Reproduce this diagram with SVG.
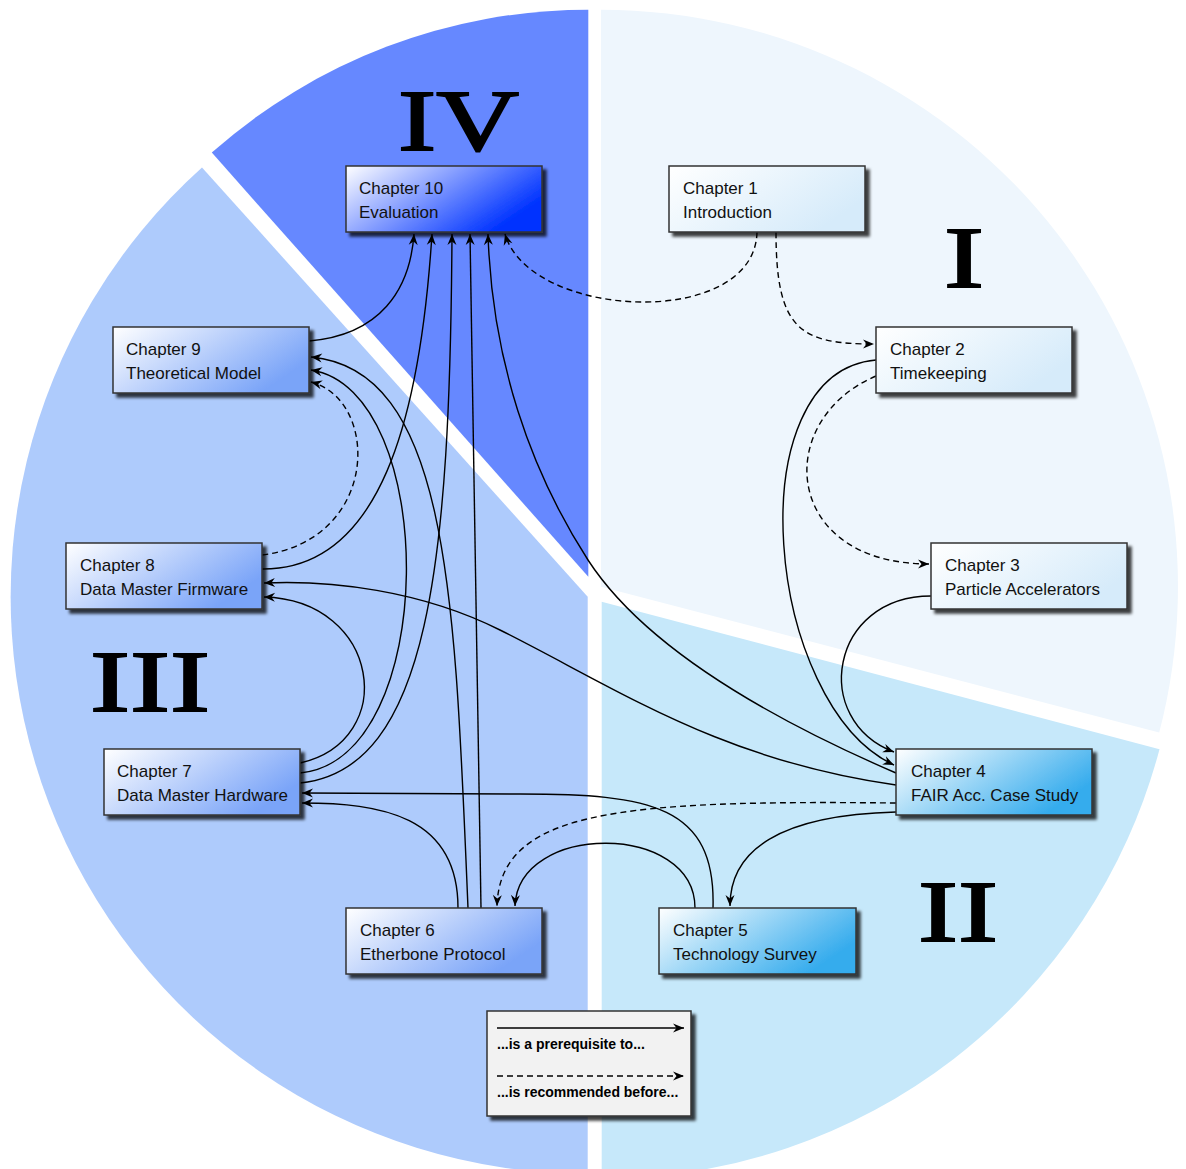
<svg xmlns="http://www.w3.org/2000/svg" width="1186" height="1169" viewBox="0 0 1186 1169">
  <style>
    .label { font-family: "Liberation Sans", Arial, sans-serif; font-size: 17px; fill: #111; }
    .roman { font-family: "Liberation Serif", "Times New Roman", serif; font-size: 86px; fill: #000; stroke: #000; stroke-width: 1.8; }
    .legend { font-family: "Liberation Sans", Arial, sans-serif; font-size: 14px; font-weight: bold; fill: #000; }
    .box { stroke: #333; stroke-width: 1.5; filter: url(#shadow); }
    .edge { fill: none; stroke: #000; stroke-width: 1.4; marker-end: url(#arrow); }
    .dash { stroke-dasharray: 6 4; }
  </style>
  <defs>
    <filter id="shadow" x="-10%" y="-20%" width="130%" height="160%">
      <feDropShadow dx="4" dy="4" stdDeviation="1.8" flood-color="#000" flood-opacity="0.75"/>
    </filter>
    <linearGradient id="gPale" x1="0" y1="0" x2="1" y2="0.5">
      <stop offset="0" stop-color="#ffffff"/>
      <stop offset="1" stop-color="#d6ebfa"/>
    </linearGradient>
    <linearGradient id="gCyan" x1="0" y1="0" x2="1" y2="0.5">
      <stop offset="0" stop-color="#ffffff"/>
      <stop offset="1" stop-color="#36aced"/>
    </linearGradient>
    <linearGradient id="gBlue" x1="0" y1="0" x2="1" y2="0.5">
      <stop offset="0" stop-color="#ffffff"/>
      <stop offset="1" stop-color="#7aa4f8"/>
    </linearGradient>
    <linearGradient id="gDeep" x1="0" y1="0" x2="1" y2="0.5">
      <stop offset="0" stop-color="#ffffff"/>
      <stop offset="1" stop-color="#0033ff"/>
    </linearGradient>
    <marker id="arrow" viewBox="-12 -6 13 12" markerWidth="13" markerHeight="12" refX="0" refY="0" orient="auto" markerUnits="userSpaceOnUse">
      <path d="M0,0 L-11,-4.5 L-7.5,0 L-11,4.5 Z" fill="#000"/>
    </marker>
  </defs>

  <!-- exploded pie: four parts -->
  <g id="parts">
    <path d="M601,586.7 L601,9.7 A577,577 0 0 1 1159.2,732.6 Z" fill="#eef6fd"/>
    <path d="M601.7,601.7 L1159.5,749.2 A577,577 0 0 1 601.7,1178.7 Z" fill="#c6e8fa"/>
    <path d="M587.7,596.7 L202,167.5 A577,577 0 0 0 587.7,1173.7 Z" fill="#aecbfc"/>
    <path d="M588.3,576.7 L588.3,9.7 A567,567 0 0 0 211.8,152.6 Z" fill="#6688ff"/>
  </g>

  <g id="part-labels">
    <text class="roman" x="398" y="150" textLength="121" lengthAdjust="spacingAndGlyphs">IV</text>
    <text class="roman" x="944" y="287" textLength="40" lengthAdjust="spacingAndGlyphs">I</text>
    <text class="roman" x="90" y="711" textLength="120" lengthAdjust="spacingAndGlyphs">III</text>
    <text class="roman" x="918" y="941" textLength="80" lengthAdjust="spacingAndGlyphs">II</text>
  </g>

  <!-- connectors -->
  <g id="connectors">
    <path class="edge dash" d="M757,232 C755,330 530,320 505,234"/>
    <path class="edge dash" d="M776,232 C776,330 800,344 874,344"/>
    <path class="edge dash" d="M876,376 C772,420 782,564 929,564"/>
    <path class="edge" d="M876,360 C735,372 765,705 894,765"/>
    <path class="edge" d="M931,596 C830,596 810,720 894,752"/>
    <path class="edge" d="M896,773 C750,710 640,640 588,560 C530,470 492,360 488,234"/>
    <path class="edge" d="M896,785 C720,760 620,690 500,630 C420,590 330,580 264,583"/>
    <path class="edge dash" d="M896,803 C620,800 500,810 497,906"/>
    <path class="edge" d="M896,812 C780,815 730,850 730,906"/>
    <path class="edge" d="M713,908 C716,805 650,794 520,794 L302,793"/>
    <path class="edge" d="M695,908 C695,822 518,822 515,906"/>
    <path class="edge" d="M458,908 C458,815 380,803 302,803"/>
    <path class="edge" d="M481,908 L470,234"/>
    <path class="edge" d="M468,908 C455,600 450,370 311,357"/>
    <path class="edge" d="M300,773 C440,760 440,390 311,370"/>
    <path class="edge" d="M300,783 C430,770 450,560 452,234"/>
    <path class="edge" d="M300,763 C400,740 380,600 264,597"/>
    <path class="edge" d="M262,569 C380,570 420,420 432,234"/>
    <path class="edge dash" d="M262,555 C380,540 380,400 311,382"/>
    <path class="edge" d="M309,341 C380,335 410,290 414,234"/>
  </g>

  <!-- chapter nodes -->
  <g id="ch1">
    <rect class="box" x="669" y="166" width="196" height="66" fill="url(#gPale)"/>
    <text class="label" x="683" y="193.5">Chapter 1</text>
    <text class="label" x="683" y="217.5">Introduction</text>
  </g>
  <g id="ch2">
    <rect class="box" x="876" y="327" width="196" height="66" fill="url(#gPale)"/>
    <text class="label" x="890" y="354.5">Chapter 2</text>
    <text class="label" x="890" y="378.5">Timekeeping</text>
  </g>
  <g id="ch3">
    <rect class="box" x="931" y="543" width="196" height="66" fill="url(#gPale)"/>
    <text class="label" x="945" y="570.5">Chapter 3</text>
    <text class="label" x="945" y="594.5">Particle Accelerators</text>
  </g>
  <g id="ch4">
    <rect class="box" x="896" y="749" width="196" height="66" fill="url(#gCyan)"/>
    <text class="label" x="911" y="776.5">Chapter 4</text>
    <text class="label" x="911" y="800.5">FAIR Acc. Case Study</text>
  </g>
  <g id="ch5">
    <rect class="box" x="659" y="908" width="197" height="66" fill="url(#gCyan)"/>
    <text class="label" x="673" y="935.5">Chapter 5</text>
    <text class="label" x="673" y="959.5">Technology Survey</text>
  </g>
  <g id="ch6">
    <rect class="box" x="346" y="908" width="196" height="66" fill="url(#gBlue)"/>
    <text class="label" x="360" y="935.5">Chapter 6</text>
    <text class="label" x="360" y="959.5">Etherbone Protocol</text>
  </g>
  <g id="ch7">
    <rect class="box" x="104" y="749" width="196" height="66" fill="url(#gBlue)"/>
    <text class="label" x="117" y="776.5">Chapter 7</text>
    <text class="label" x="117" y="800.5">Data Master Hardware</text>
  </g>
  <g id="ch8">
    <rect class="box" x="66" y="543" width="196" height="66" fill="url(#gBlue)"/>
    <text class="label" x="80" y="570.5">Chapter 8</text>
    <text class="label" x="80" y="594.5">Data Master Firmware</text>
  </g>
  <g id="ch9">
    <rect class="box" x="113" y="327" width="196" height="66" fill="url(#gBlue)"/>
    <text class="label" x="126" y="354.5">Chapter 9</text>
    <text class="label" x="126" y="378.5">Theoretical Model</text>
  </g>
  <g id="ch10">
    <rect class="box" x="346" y="166" width="196" height="66" fill="url(#gDeep)"/>
    <text class="label" x="359" y="193.5">Chapter 10</text>
    <text class="label" x="359" y="217.5">Evaluation</text>
  </g>

  <!-- legend -->
  <g id="legend">
    <rect class="box" x="487" y="1011" width="204" height="105" fill="#f2f2f2"/>
    <path class="edge" d="M497,1028 L684,1028"/>
    <text class="legend" x="497" y="1049">...is a prerequisite to...</text>
    <path class="edge dash" d="M497,1076 L684,1076"/>
    <text class="legend" x="497" y="1097">...is recommended before...</text>
  </g>
</svg>
